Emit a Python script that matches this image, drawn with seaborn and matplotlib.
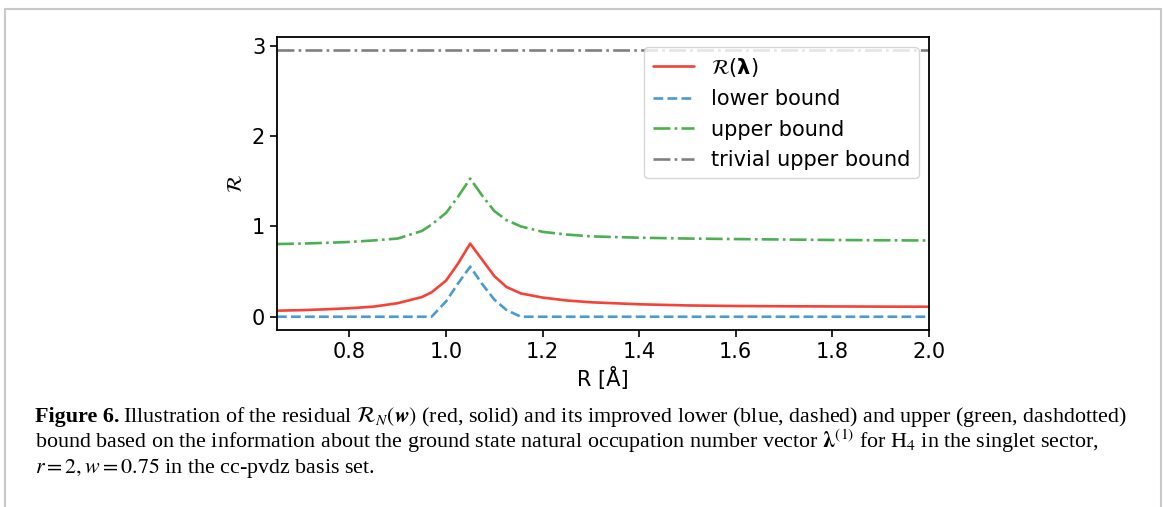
import numpy as np
import pandas as pd
import matplotlib
matplotlib.use("Agg")
import matplotlib.pyplot as plt
from matplotlib.lines import Line2D
import seaborn as sns

# bond length grid (Angstrom) and the four curves
R = [0.65, 0.70, 0.75, 0.80, 0.85, 0.90, 0.95, 0.97, 1.00, 1.025, 1.05, 1.075, 1.10,
     1.125, 1.155, 1.20, 1.25, 1.30, 1.40, 1.50, 1.60, 1.70, 1.80, 1.90, 2.00]
residual = [0.067, 0.073, 0.082, 0.094, 0.112, 0.150, 0.218, 0.270, 0.400, 0.590, 0.810,
            0.630, 0.450, 0.330, 0.258, 0.212, 0.180, 0.160, 0.138, 0.125, 0.119, 0.116,
            0.114, 0.112, 0.111]
lower = [0, 0, 0, 0, 0, 0, 0, 0, 0.170, 0.370, 0.555, 0.360, 0.190, 0.075, 0, 0, 0, 0,
         0, 0, 0, 0, 0, 0, 0]
upper = [0.805, 0.810, 0.818, 0.828, 0.845, 0.866, 0.950, 1.020, 1.150, 1.330, 1.530,
         1.340, 1.170, 1.070, 1.000, 0.940, 0.910, 0.890, 0.875, 0.866, 0.860, 0.855,
         0.850, 0.847, 0.844]
trivial = [2.95] * len(R)

labels = [r"$\mathcal{R}(\boldsymbol{\lambda})$", "lower bound", "upper bound", "trivial upper bound"]
colors = ["#f44336", "#4a9ad3", "#4caf50", "#808080"]
styles = ["-", "--", "-.", "-."]

sns.set_style("ticks", rc={"text.color": "black", "axes.labelcolor": "black",
                           "xtick.color": "black", "ytick.color": "black"})
plt.rcParams["font.family"] = ["DejaVu Sans"]

fig = plt.figure(figsize=(11.65, 5.07), dpi=100)
ax = fig.add_axes([0.2378, 0.349, 0.5596, 0.578])

for vals, lab, c, ls in zip([residual, lower, upper, trivial], labels, colors, styles):
    df = pd.DataFrame({"R": R, "val": vals})
    sns.lineplot(data=df, x="R", y="val", ax=ax, color=c, linestyle=ls, lw=1.9, label=lab)

ax.set_xlim(0.65, 2.0)
ax.set_xticks([0.8, 1.0, 1.2, 1.4, 1.6, 1.8, 2.0])
ax.set_yticks([0, 1, 2, 3])
ax.tick_params(labelsize=15, width=1.2, length=5)
for s in ax.spines.values():
    s.set_linewidth(1.3)
    s.set_color("black")
ax.set_xlabel("R [Å]", fontsize=15)
ax.set_ylabel(r"$\mathcal{R}$", fontsize=15)
ax.legend(loc="upper right", fontsize=15, framealpha=0.8)

# page frame around the figure
for xs, ys in [([0.004, 0.004], [0.0, 0.982]), ([0.004, 0.9965], [0.982, 0.982]),
               ([0.9965, 0.9965], [0.0, 0.982])]:
    fig.add_artist(Line2D(xs, ys, color="#c8c8c8", lw=1.5, transform=fig.transFigure))

# caption
cap_kw = dict(family="Liberation Serif", fontsize=15.8, math_fontfamily="stix", va="baseline")
t = fig.text(0.030, 1 - 422 / 507, "Figure 6.", fontweight="bold", **cap_kw)
fig.canvas.draw()
bb = t.get_window_extent(fig.canvas.get_renderer())
x2 = (bb.x1 + 4) / fig.bbox.width
fig.text(x2, 1 - 422 / 507,
         r"Illustration of the residual $\mathcal{R}_N(\boldsymbol{w})$ (red, solid) and its improved "
         r"lower (blue, dashed) and upper (green, dashdotted)", **cap_kw)
fig.text(0.030, 1 - 448 / 507,
         r"bound based on the information about the ground state natural occupation number vector "
         r"$\boldsymbol{\lambda}^{(1)}$ for H$_4$ in the singlet sector,", **cap_kw)
fig.text(0.030, 1 - 473 / 507, r"$r = 2, w = 0.75$ in the cc-pvdz basis set.", **cap_kw)

fig.savefig("out.png", dpi=100)
